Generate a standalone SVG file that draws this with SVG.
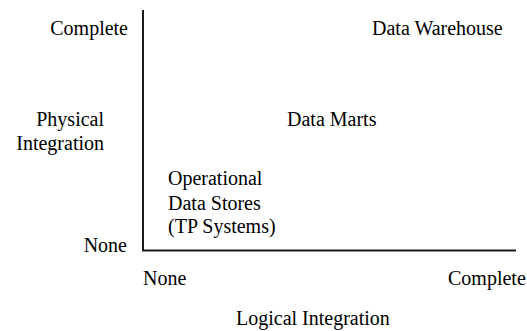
<svg xmlns="http://www.w3.org/2000/svg" width="527" height="331" viewBox="0 0 527 331">
<style>
text{font-family:"Liberation Serif","Times New Roman",serif;font-size:20px;fill:#000}
.e{text-anchor:end}
.ax{stroke:#1a1a1a;stroke-width:2;fill:none}
</style>
<rect width="527" height="331" fill="#fff"/>
<g id="axes">
<path class="ax" d="M143,10 V250.5 H516"/>
</g>
<g id="y-labels">
<text class="e" x="128" y="35">Complete</text>
<text class="e" x="104" y="126">Physical</text>
<text class="e" x="104" y="150">Integration</text>
<text class="e" x="127" y="252">None</text>
</g>
<g id="x-labels">
<text x="143" y="285">None</text>
<text x="448" y="285">Complete</text>
<text x="236" y="325">Logical Integration</text>
</g>
<g id="node-warehouse"><text x="372" y="35">Data Warehouse</text></g>
<g id="node-marts"><text x="287" y="126">Data Marts</text></g>
<g id="node-ods">
<text x="168" y="185">Operational</text>
<text x="168" y="210">Data Stores</text>
<text x="168" y="233">(TP Systems)</text>
</g>
</svg>
